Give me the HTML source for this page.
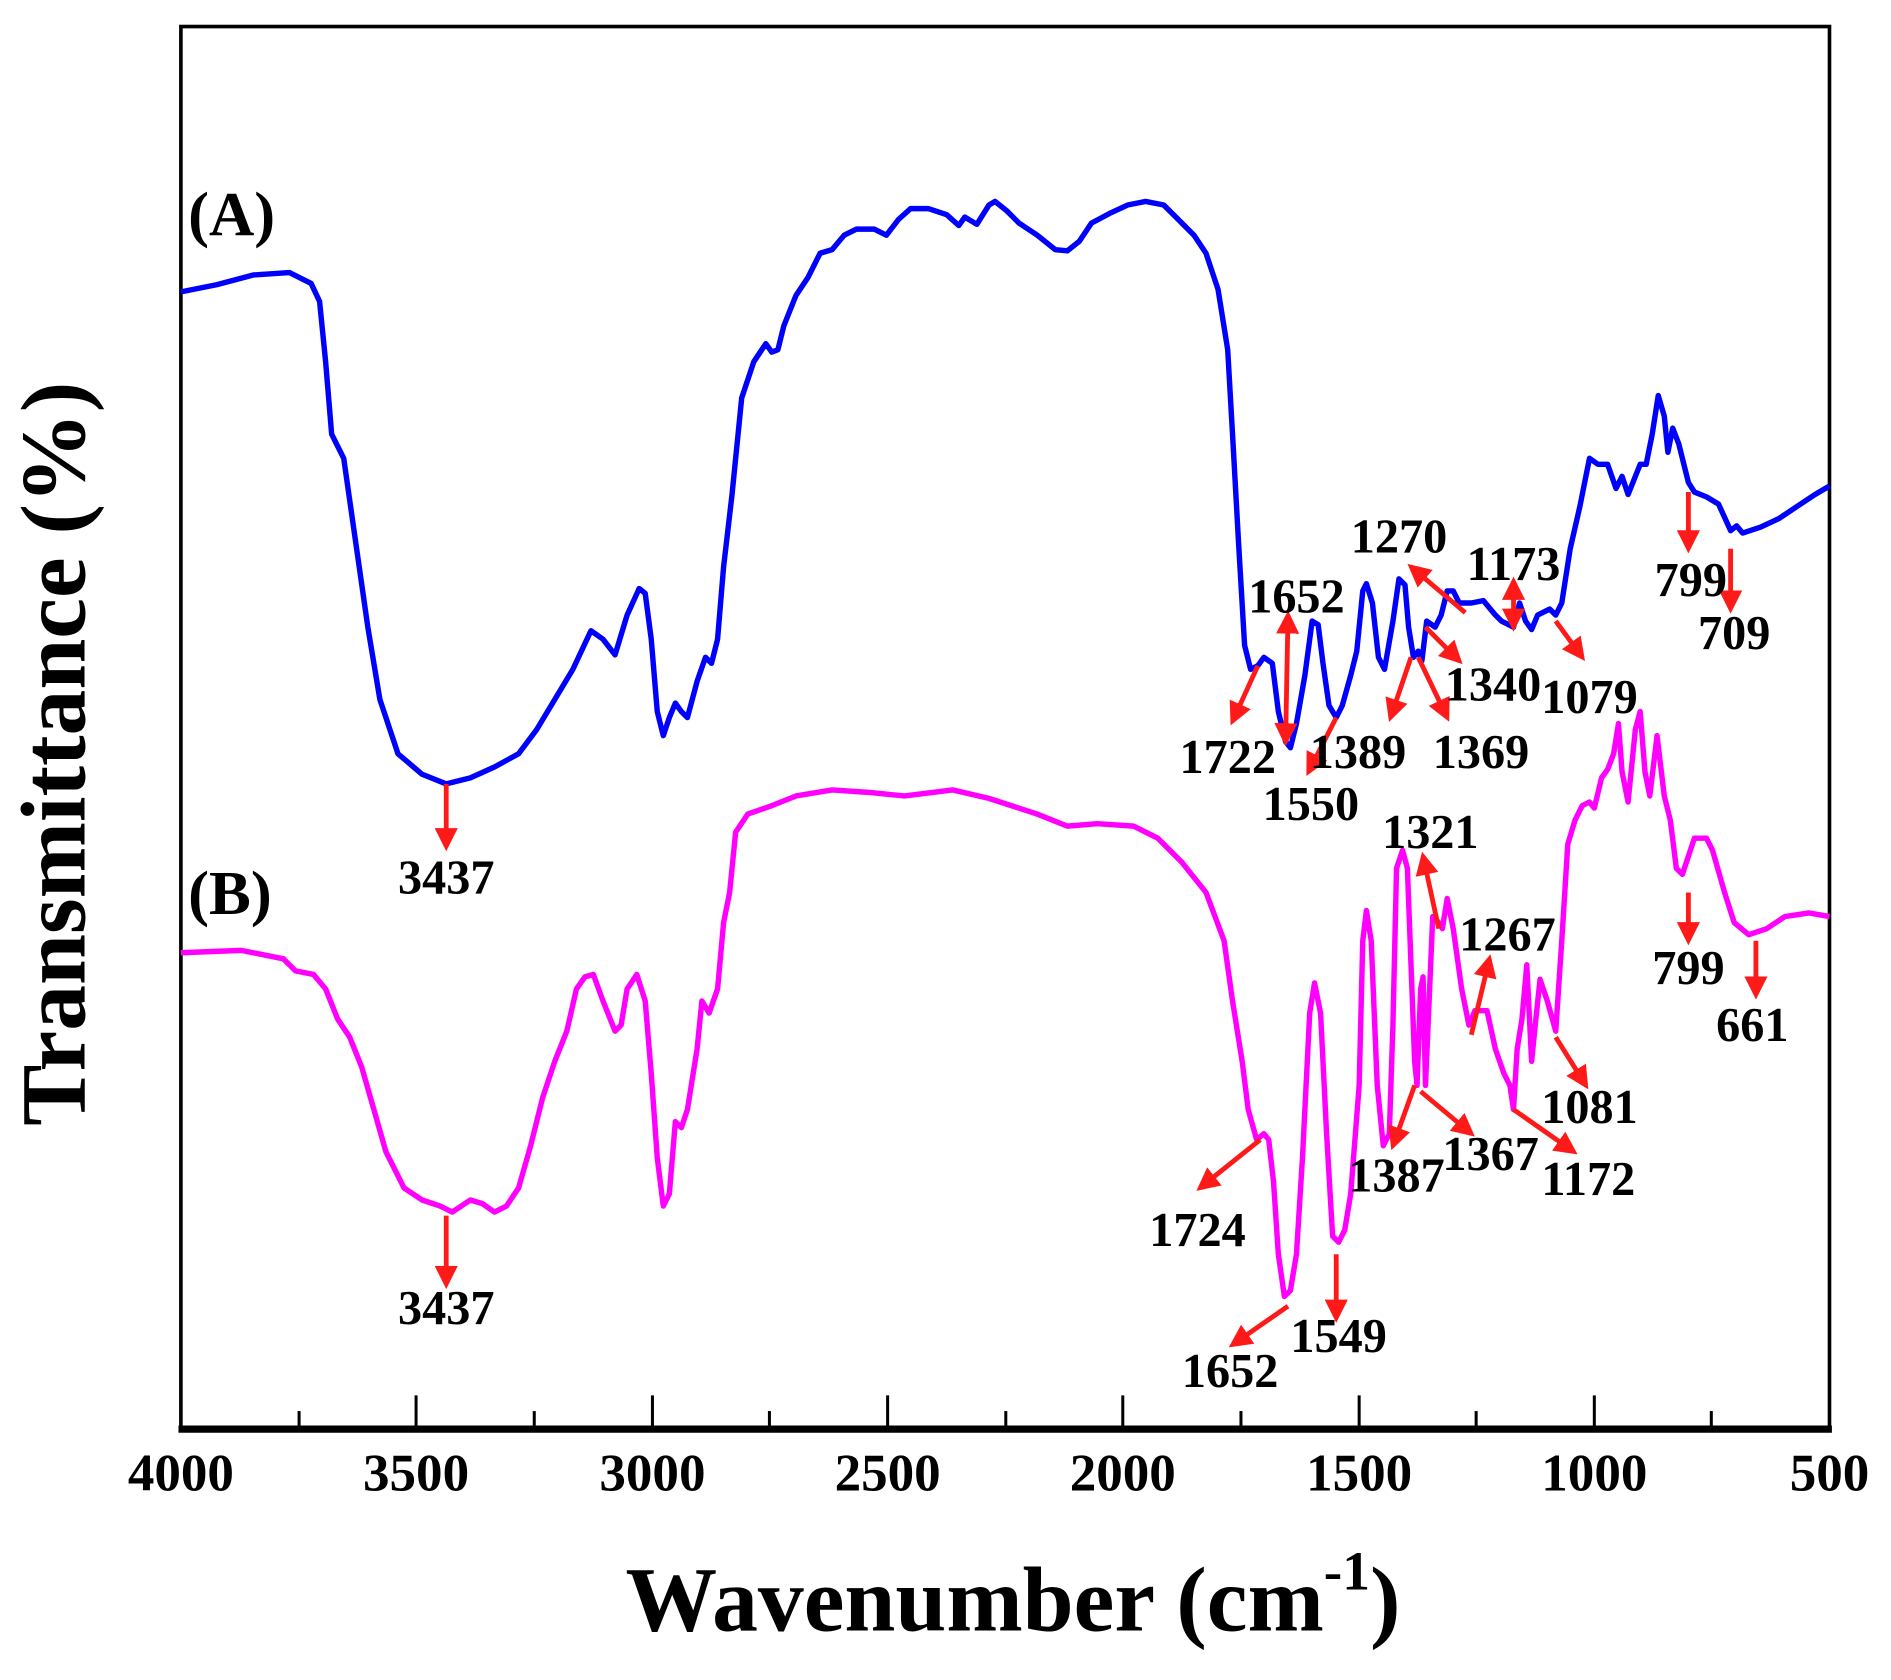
<!DOCTYPE html>
<html><head><meta charset="utf-8"><style>html,body{margin:0;padding:0;background:#fff}svg{display:block}</style></head><body>
<svg width="1891" height="1680" viewBox="0 0 1568 1393" preserveAspectRatio="none" xmlns="http://www.w3.org/2000/svg" font-family="Liberation Serif, serif" font-weight="bold">
<defs><marker id="ah" viewBox="0 0 10 10" refX="8" refY="5" markerWidth="4.8" markerHeight="4.8" orient="auto-start-reverse"><path d="M0,0 L10,5 L0,10 z" fill="#ff1a1a"/></marker></defs>
<rect width="1568" height="1393" fill="#fff"/>
<rect x="150" y="22" width="1367" height="1163" fill="none" stroke="#000" stroke-width="3"/>
<line x1="148" y1="1185" x2="1519" y2="1185" stroke="#000" stroke-width="6"/>
<g stroke="#000" stroke-width="2.5">
<line x1="345" y1="1185" x2="345" y2="1157"/><line x1="541" y1="1185" x2="541" y2="1157"/><line x1="736" y1="1185" x2="736" y2="1157"/><line x1="931" y1="1185" x2="931" y2="1157"/><line x1="1127" y1="1185" x2="1127" y2="1157"/><line x1="1322" y1="1185" x2="1322" y2="1157"/>
<line x1="248" y1="1185" x2="248" y2="1170"/><line x1="443" y1="1185" x2="443" y2="1170"/><line x1="638" y1="1185" x2="638" y2="1170"/><line x1="834" y1="1185" x2="834" y2="1170"/><line x1="1029" y1="1185" x2="1029" y2="1170"/><line x1="1224" y1="1185" x2="1224" y2="1170"/><line x1="1419" y1="1185" x2="1419" y2="1170"/>
</g>
<g font-size="44" text-anchor="middle">
<text x="150" y="1236">4000</text><text x="345" y="1236">3500</text><text x="541" y="1236">3000</text><text x="736" y="1236">2500</text><text x="931" y="1236">2000</text><text x="1127" y="1236">1500</text><text x="1322" y="1236">1000</text><text x="1517" y="1236">500</text>
</g>
<text x="840" y="1352" font-size="76" text-anchor="middle">Wavenumber (cm<tspan font-size="46" dy="-34">-1</tspan><tspan dy="34">)</tspan></text>
<text transform="translate(70,625) rotate(-90)" font-size="76" text-anchor="middle">Transmittance (%)</text>
<text x="156" y="195" font-size="52">(A)</text>
<text x="156" y="758" font-size="52">(B)</text>
<polyline fill="none" stroke="#0000ff" stroke-width="4.5" stroke-linejoin="round" points="150,242 180,236 210,228 240,226 258,235 265,250 270,300 275,360 285,380 295,450 305,520 315,580 330,625 350,642 370,650 390,645 410,636 430,625 445,605 460,580 475,555 490,523 500,530 510,543 520,510 530,488 535,492 540,530 545,590 550,610 555,595 560,583 565,590 570,595 578,565 585,545 590,550 595,530 600,470 607,410 615,330 625,300 635,285 640,292 645,290 650,270 660,245 670,230 680,210 690,207 700,195 710,190 725,190 735,195 745,182 755,173 770,173 785,178 795,187 800,180 810,186 820,170 825,167 835,175 845,185 860,195 875,207 885,208 895,200 905,185 920,177 935,170 950,167 965,170 975,180 990,195 1000,210 1010,240 1018,290 1022,360 1027,450 1032,535 1037,555 1043,552 1048,545 1055,550 1060,590 1066,615 1070,620 1075,600 1082,560 1088,515 1093,518 1097,550 1102,585 1108,595 1113,585 1120,560 1125,540 1130,490 1133,484 1138,500 1143,545 1148,555 1155,515 1160,480 1165,485 1168,520 1172,545 1176,540 1179,548 1183,515 1190,520 1195,510 1200,490 1205,490 1210,500 1220,500 1230,498 1240,510 1245,515 1255,520 1260,500 1265,515 1270,522 1275,510 1285,505 1290,510 1295,500 1302,455 1310,420 1318,380 1325,385 1333,385 1340,405 1345,395 1350,410 1360,385 1365,385 1370,360 1375,328 1380,345 1383,375 1387,355 1392,368 1400,400 1405,408 1415,412 1425,418 1435,440 1440,436 1445,442 1460,437 1475,430 1490,420 1505,410 1517,403"/>
<polyline fill="none" stroke="#ff00ff" stroke-width="4.5" stroke-linejoin="round" points="150,790 200,788 235,795 245,805 260,808 270,820 280,845 290,860 300,885 310,920 320,955 335,985 350,995 365,1000 375,1005 390,995 400,998 410,1005 420,1000 430,985 440,950 450,910 460,880 470,855 478,820 485,810 492,808 500,830 510,855 515,850 520,820 528,808 535,830 540,890 545,960 550,1000 555,990 560,930 565,935 570,920 578,870 582,830 588,840 595,820 600,765 605,740 610,690 620,675 640,668 660,660 690,655 720,657 750,660 790,655 820,662 860,675 885,685 910,683 940,685 960,695 980,715 1000,740 1015,780 1022,830 1030,880 1035,920 1042,945 1048,940 1052,945 1056,980 1060,1040 1065,1075 1070,1070 1075,1040 1080,960 1086,840 1090,815 1095,840 1100,940 1105,1025 1110,1030 1115,1020 1120,990 1127,900 1130,780 1133,755 1137,780 1142,900 1147,950 1152,940 1155,850 1158,720 1163,705 1167,720 1170,800 1173,880 1175,900 1178,820 1180,810 1182,900 1185,830 1188,760 1193,765 1196,770 1200,745 1205,770 1212,820 1218,850 1223,838 1233,838 1240,870 1247,890 1252,900 1255,920 1258,870 1262,845 1266,800 1270,880 1273,850 1277,812 1283,830 1290,855 1295,780 1300,700 1306,680 1312,668 1318,665 1322,670 1328,645 1333,638 1338,625 1342,600 1345,640 1350,665 1356,605 1360,590 1364,640 1368,660 1374,610 1380,660 1385,680 1390,720 1395,725 1400,710 1405,695 1415,695 1420,705 1430,740 1438,765 1450,775 1465,770 1480,760 1500,757 1517,760"/>
<g stroke="#ff1a1a" stroke-width="4" marker-end="url(#ah)">
<line x1="370" y1="650" x2="370" y2="702"/><line x1="1043" y1="552" x2="1022" y2="598"/><line x1="1066" y1="615" x2="1068" y2="510" marker-start="url(#ah)"/><line x1="1108" y1="595" x2="1085" y2="640"/><line x1="1170" y1="545" x2="1153" y2="595"/><line x1="1176" y1="545" x2="1200" y2="595"/><line x1="1215" y1="508" x2="1170" y2="470"/><line x1="1182" y1="520" x2="1210" y2="548"/><line x1="1255" y1="520" x2="1255" y2="482" marker-start="url(#ah)"/><line x1="1290" y1="515" x2="1312" y2="545"/><line x1="1400" y1="408" x2="1400" y2="455"/><line x1="1435" y1="455" x2="1435" y2="505"/>
<line x1="370" y1="1008" x2="370" y2="1065"/><line x1="1045" y1="945" x2="995" y2="985"/><line x1="1068" y1="1083" x2="1022" y2="1115"/><line x1="1108" y1="1040" x2="1108" y2="1093"/><line x1="1193" y1="770" x2="1180" y2="710"/><line x1="1220" y1="858" x2="1235" y2="795"/><line x1="1173" y1="900" x2="1155" y2="950"/><line x1="1178" y1="905" x2="1220" y2="940"/><line x1="1255" y1="920" x2="1305" y2="955"/><line x1="1290" y1="860" x2="1315" y2="900"/><line x1="1400" y1="740" x2="1400" y2="780"/><line x1="1456" y1="780" x2="1456" y2="825"/>
</g>
<g font-size="40" text-anchor="middle">
<text x="370" y="741">3437</text><text x="1018" y="641">1722</text><text x="1075" y="508">1652</text><text x="1087" y="680">1550</text><text x="1160" y="458">1270</text><text x="1255" y="481">1173</text><text x="1126" y="637">1389</text><text x="1228" y="637">1369</text><text x="1238" y="581">1340</text><text x="1318" y="591">1079</text><text x="1402" y="494">799</text><text x="1438" y="538">709</text>
<text x="370" y="1098">3437</text><text x="993" y="1033">1724</text><text x="1020" y="1150">1652</text><text x="1110" y="1121">1549</text><text x="1186" y="703">1321</text><text x="1250" y="788">1267</text><text x="1318" y="931">1081</text><text x="1158" y="988">1387</text><text x="1236" y="970">1367</text><text x="1317" y="991">1172</text><text x="1400" y="816">799</text><text x="1453" y="863">661</text>
</g>
</svg>
</body></html>
